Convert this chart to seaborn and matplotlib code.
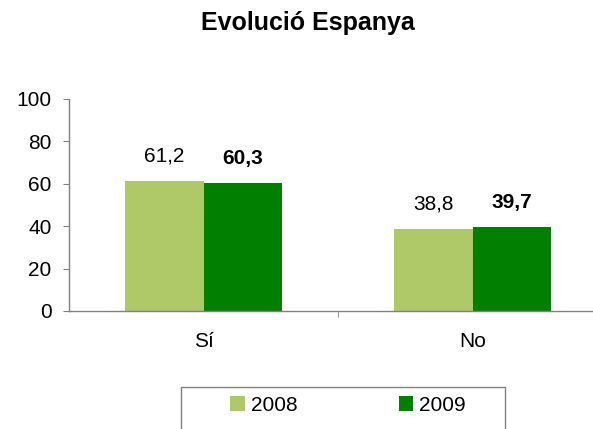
import pandas as pd
import matplotlib
matplotlib.use("Agg")
import matplotlib.pyplot as plt
import seaborn as sns

# Chart values
categories = ["Sí", "No"]
years = ["2008", "2009"]
vals_2008 = [61.2, 38.8]
vals_2009 = [60.3, 39.7]

df = pd.DataFrame({
    "resposta": categories * 2,
    "any": [years[0]] * 2 + [years[1]] * 2,
    "valor": vals_2008 + vals_2009,
})

sns.set_style("white")
plt.rcParams["font.family"] = ["Liberation Sans", "DejaVu Sans"]
plt.rcParams["text.color"] = "black"
plt.rcParams["xtick.color"] = "black"
plt.rcParams["ytick.color"] = "black"

fig = plt.figure(figsize=(5.93, 4.29), dpi=100)
W, H = 593, 429
ax = fig.add_axes([69 / W, 1 - 311 / H, (607 - 69) / W, 212 / H])

colors = {"2008": "#AFC968", "2009": "#007F00"}
sns.barplot(data=df, x="resposta", y="valor", hue="any", palette=colors,
            width=0.58, gap=0, ax=ax, saturation=1, edgecolor="none")

ax.set_ylim(0, 100)
ax.set_xlim(-0.5, 1.5)
ax.set_yticks(range(0, 101, 20))
ax.set_xlabel("")
ax.set_ylabel("")
for s in ["top", "right"]:
    ax.spines[s].set_visible(False)
for s in ["left", "bottom"]:
    ax.spines[s].set_color("#808080")
    ax.spines[s].set_linewidth(1)

ax.tick_params(axis="y", direction="out", length=4.5, color="#808080",
               labelcolor="black", labelsize=15, pad=8, left=True)
ax.tick_params(axis="x", which="major", length=0, labelsize=15, pad=15,
               labelcolor="black")
ax.set_xticks([0.5], minor=True)
ax.tick_params(axis="x", which="minor", direction="out", length=4,
               color="#808080", bottom=True)

# value labels
for cont, vals, w in zip(ax.containers, [vals_2008, vals_2009], ["normal", "bold"]):
    labels = [f"{v:.1f}".replace(".", ",") for v in vals]
    ax.bar_label(cont, labels=labels, padding=11, fontsize=15, fontweight=w,
                 color="black")

fig.text(308 / W, 1 - 23 / H, "Evolució Espanya", ha="center", va="center",
         fontsize=18, fontweight="bold", color="black")

# legend: entries spread over the box, frame drawn separately (cut by bottom edge)
handles, labels = ax.get_legend_handles_labels()
ax.get_legend().remove()
leg = fig.legend(handles, labels, loc="upper left", ncol=2, mode="expand",
                 bbox_to_anchor=(230 / W, 1 - 396 / H, (466 - 230) / W, 0),
                 frameon=False, fontsize=15, handlelength=0.7, handleheight=0.7,
                 handletextpad=0.3, borderpad=0, borderaxespad=0)
for t in leg.get_texts():
    t.set_color("black")
fig.add_artist(plt.Rectangle((181 / W, -0.1), (505 - 181) / W, (1 - 387 / H) + 0.1,
                             transform=fig.transFigure, fill=False,
                             edgecolor="#808080", lw=1))

fig.savefig("out.png", dpi=100)
